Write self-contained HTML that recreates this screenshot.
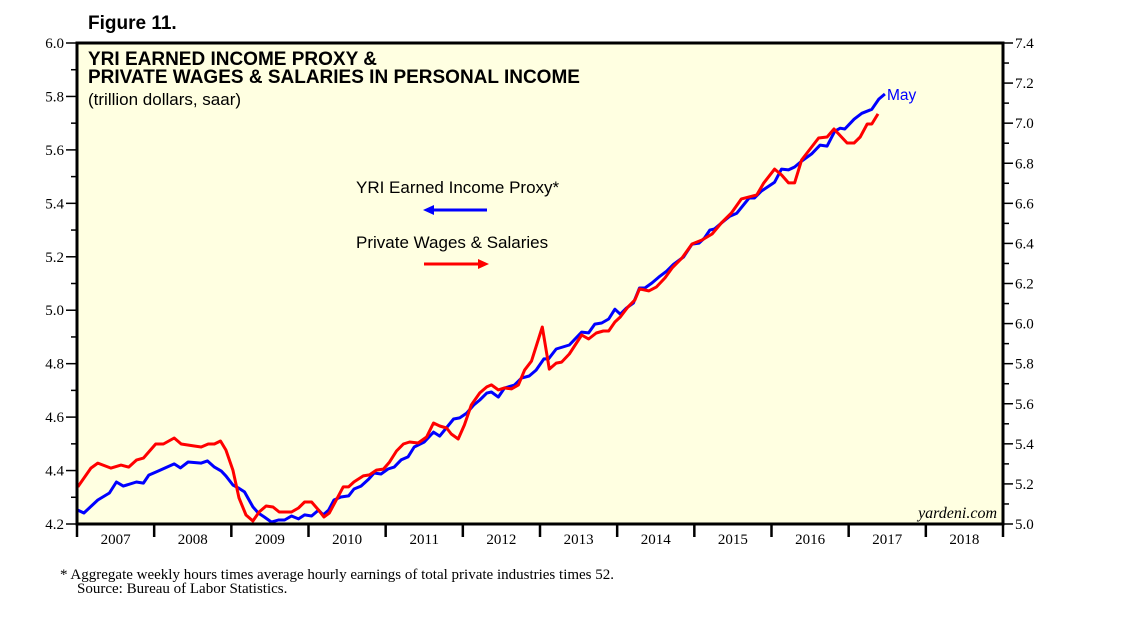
<!DOCTYPE html>
<html><head><meta charset="utf-8"><style>
body{margin:0;background:#fff;width:1138px;height:621px;overflow:hidden}
svg{display:block;font-family:"Liberation Sans",sans-serif}
</style></head><body>
<svg id="chart" width="1138" height="621">
<text x="88" y="29" font-size="19" font-weight="bold">Figure 11.</text>
<rect x="77" y="43" width="926" height="481" fill="#ffffe1"/>
<g id="axes"></g>
<g id="series"></g>
<rect x="77" y="43" width="926" height="481" fill="none" stroke="#000" stroke-width="3"/>
<text x="88" y="65" font-size="19" font-weight="bold">YRI EARNED INCOME PROXY &amp;</text>
<text x="88" y="83" font-size="19" font-weight="bold">PRIVATE WAGES &amp; SALARIES IN PERSONAL INCOME</text>
<text x="88" y="105" font-size="17">(trillion dollars, saar)</text>
<text x="356" y="193" font-size="17">YRI Earned Income Proxy*</text>
<g><line x1="432" y1="210" x2="487" y2="210" stroke="#00f" stroke-width="3"/><polygon points="423,210 434,205 434,215" fill="#00f"/></g>
<text x="356" y="248" font-size="17">Private Wages &amp; Salaries</text>
<g><line x1="424" y1="264" x2="480" y2="264" stroke="#f00" stroke-width="3"/><polygon points="489,264 478,259 478,269" fill="#f00"/></g>
<text x="887" y="100" font-size="15.5" fill="#00f">May</text>
<text x="997" y="518" font-size="16" font-style="italic" font-family="Liberation Serif,serif" text-anchor="end">yardeni.com</text>
<text x="60" y="579" font-size="15" font-family="Liberation Serif,serif">*  Aggregate weekly hours times average hourly earnings of total private industries times 52.</text>
<text x="77" y="593" font-size="15" font-family="Liberation Serif,serif">Source: Bureau of Labor Statistics.</text>
</svg>
<script>
const years=[2007,2008,2009,2010,2011,2012,2013,2014,2015,2016,2017,2018];
const leftTicks=[4.2,4.4,4.6,4.8,5.0,5.2,5.4,5.6,5.8,6.0];
const rightTicks=[5.0,5.2,5.4,5.6,5.8,6.0,6.2,6.4,6.6,6.8,7.0,7.2,7.4];
const blueDates=[2007.01,2007.09,2007.27,2007.42,2007.51,2007.60,2007.77,2007.86,2007.93,2008.05,2008.26,2008.34,2008.44,2008.61,2008.69,2008.78,2008.87,2008.93,2009.02,2009.09,2009.17,2009.28,2009.35,2009.43,2009.52,2009.61,2009.69,2009.78,2009.87,2009.95,2010.04,2010.13,2010.19,2010.26,2010.33,2010.42,2010.52,2010.59,2010.68,2010.78,2010.85,2010.94,2011.03,2011.11,2011.20,2011.29,2011.37,2011.50,2011.62,2011.70,2011.88,2011.96,2012.05,2012.14,2012.22,2012.31,2012.37,2012.46,2012.54,2012.67,2012.76,2012.86,2012.95,2013.05,2013.11,2013.21,2013.38,2013.54,2013.63,2013.71,2013.80,2013.89,2013.97,2014.04,2014.12,2014.21,2014.29,2014.36,2014.45,2014.54,2014.64,2014.73,2014.86,2014.97,2015.06,2015.13,2015.20,2015.26,2015.35,2015.46,2015.55,2015.71,2015.78,2015.87,2016.04,2016.13,2016.22,2016.30,2016.39,2016.52,2016.63,2016.72,2016.82,2016.89,2016.95,2017.07,2017.17,2017.30,2017.39,2017.47];
const blueValues=[4.252,4.241,4.290,4.316,4.357,4.342,4.357,4.353,4.383,4.398,4.425,4.410,4.432,4.428,4.436,4.413,4.398,4.380,4.346,4.335,4.320,4.264,4.241,4.226,4.207,4.215,4.215,4.230,4.219,4.234,4.230,4.252,4.234,4.252,4.290,4.301,4.305,4.331,4.342,4.368,4.391,4.387,4.406,4.413,4.440,4.451,4.488,4.507,4.544,4.529,4.593,4.597,4.615,4.645,4.664,4.690,4.694,4.675,4.709,4.720,4.746,4.754,4.776,4.818,4.818,4.855,4.870,4.918,4.915,4.948,4.952,4.967,5.004,4.985,5.008,5.027,5.083,5.083,5.102,5.124,5.146,5.172,5.199,5.247,5.251,5.270,5.300,5.304,5.326,5.352,5.363,5.420,5.420,5.446,5.479,5.528,5.525,5.536,5.558,5.585,5.618,5.614,5.670,5.681,5.678,5.715,5.737,5.752,5.790,5.809];
const redDates=[2007.01,2007.18,2007.27,2007.44,2007.57,2007.67,2007.77,2007.86,2008.02,2008.12,2008.26,2008.35,2008.52,2008.61,2008.70,2008.78,2008.86,2008.93,2009.02,2009.10,2009.19,2009.28,2009.36,2009.45,2009.54,2009.62,2009.78,2009.87,2009.95,2010.04,2010.13,2010.20,2010.27,2010.36,2010.45,2010.52,2010.59,2010.71,2010.79,2010.88,2010.97,2011.05,2011.14,2011.23,2011.31,2011.42,2011.53,2011.62,2011.70,2011.79,2011.85,2011.94,2012.02,2012.11,2012.22,2012.31,2012.37,2012.46,2012.54,2012.63,2012.72,2012.80,2012.89,2013.03,2013.12,2013.21,2013.28,2013.38,2013.54,2013.63,2013.73,2013.82,2013.89,2013.97,2014.04,2014.14,2014.23,2014.29,2014.41,2014.51,2014.62,2014.71,2014.84,2014.97,2015.10,2015.23,2015.35,2015.48,2015.61,2015.81,2015.90,2016.04,2016.13,2016.22,2016.30,2016.39,2016.61,2016.72,2016.81,2016.98,2017.07,2017.15,2017.24,2017.30,2017.38];
const redValues=[5.185,5.279,5.304,5.279,5.294,5.284,5.319,5.329,5.399,5.399,5.429,5.399,5.389,5.384,5.399,5.399,5.414,5.369,5.269,5.130,5.045,5.015,5.060,5.090,5.085,5.060,5.060,5.080,5.110,5.110,5.070,5.035,5.055,5.120,5.185,5.185,5.210,5.240,5.245,5.269,5.274,5.309,5.364,5.399,5.409,5.404,5.434,5.504,5.489,5.479,5.449,5.424,5.494,5.594,5.654,5.684,5.694,5.669,5.679,5.674,5.694,5.768,5.813,5.983,5.773,5.803,5.808,5.848,5.943,5.923,5.953,5.963,5.963,6.008,6.033,6.083,6.118,6.173,6.163,6.183,6.228,6.277,6.327,6.397,6.417,6.447,6.502,6.552,6.622,6.642,6.702,6.771,6.742,6.702,6.702,6.816,6.926,6.931,6.971,6.901,6.901,6.931,6.996,6.996,7.046];

const X0=77,X1=1003,Y0=43,Y1=524;
const xs=d=>X0+(d-2007)/12*(X1-X0);
const yl=v=>Y1-(v-4.2)/1.8*(Y1-Y0);
const yr=v=>Y1-(v-5.0)/2.4*(Y1-Y0);
const NS='http://www.w3.org/2000/svg';
const axes=document.getElementById('axes'),series=document.getElementById('series');
function mk(tag,attrs,parent){const e=document.createElementNS(NS,tag);for(const k in attrs)e.setAttribute(k,attrs[k]);parent.appendChild(e);return e;}

leftTicks.forEach((v,i)=>{
  const y=yl(v);
  const t=mk('line',{x1:X0-11,x2:X0,y1:y,y2:y,stroke:'#000','stroke-width':1.5},axes);
  
  
  if(i<leftTicks.length-1){const m=mk('line',{x1:X0-6,x2:X0,y1:yl(v+0.1),y2:yl(v+0.1),stroke:'#000','stroke-width':1.5},axes);
    
    }
  const l=mk('text',{x:X0-13,y:y+5,'font-size':15,'text-anchor':'end','font-family':'Liberation Serif,serif'},axes);
  l.textContent=v.toFixed(1);
  
  
});
rightTicks.forEach((v,i)=>{
  const y=yr(v);
  const t=mk('line',{x1:X1,x2:X1+10,y1:y,y2:y,stroke:'#000','stroke-width':1.5},axes);
  
  
  if(i<rightTicks.length-1){const m=mk('line',{x1:X1,x2:X1+6,y1:yr(v+0.1),y2:yr(v+0.1),stroke:'#000','stroke-width':1.5},axes);
    
    }
  const l=mk('text',{x:X1+12,y:y+5,'font-size':15,'font-family':'Liberation Serif,serif'},axes);
  l.textContent=v.toFixed(1);
  
  
});
years.forEach(yv=>{
  const x=xs(yv);
  const t=mk('line',{x1:x,x2:x,y1:Y1,y2:Y1+13,stroke:'#000','stroke-width':2.5},axes);
  
  
  const l=mk('text',{x:xs(yv+0.5),y:Y1+20,'font-size':15,'text-anchor':'middle','font-family':'Liberation Serif,serif'},axes);
  l.textContent=yv;
  
  
});
const endT=mk('line',{x1:X1,x2:X1,y1:Y1,y2:Y1+13,stroke:'#000','stroke-width':2.5},axes);



const bp=mk('path',{d:blueDates.map((d,i)=>(i?'L':'M')+xs(d).toFixed(1)+','+yl(blueValues[i]).toFixed(1)).join(''),fill:'none',stroke:'#00f','stroke-width':3,'stroke-linejoin':'round'},series);


const rp=mk('path',{d:redDates.map((d,i)=>(i?'L':'M')+xs(d).toFixed(1)+','+yr(redValues[i]).toFixed(1)).join(''),fill:'none',stroke:'#f00','stroke-width':3,'stroke-linejoin':'round'},series);


</script>
</body></html>
